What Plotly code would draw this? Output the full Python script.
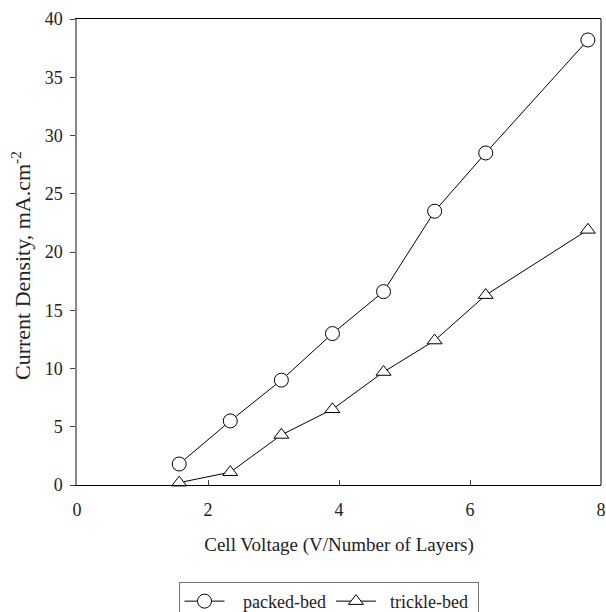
import plotly.graph_objects as go

voltage = [1.56, 2.34, 3.12, 3.90, 4.68, 5.46, 6.24, 7.80]
packed_bed = [1.8, 5.5, 9.0, 13.0, 16.6, 23.5, 28.5, 38.2]
trickle_bed = [0.2, 1.1, 4.3, 6.5, 9.7, 12.4, 16.3, 21.9]

FONT = "Liberation Serif"
NB = "\u00a0"

fig = go.Figure()
fig.add_trace(go.Scatter(
    x=voltage, y=packed_bed, name=NB * 3 + "packed-bed", mode="lines+markers",
    line=dict(color="black", width=1),
    marker=dict(symbol="circle", size=14, color="white", line=dict(color="black", width=1)),
    cliponaxis=False,
))
fig.add_trace(go.Scatter(
    x=voltage, y=trickle_bed, name=NB * 2 + "trickle-bed" + NB, mode="lines+markers",
    line=dict(color="black", width=1),
    marker=dict(symbol="triangle-up", size=13, color="white", line=dict(color="black", width=1)),
    cliponaxis=False,
))

fig.update_layout(
    width=606, height=612,
    margin=dict(l=77, r=5, t=19, b=127, autoexpand=False),
    paper_bgcolor="white", plot_bgcolor="white",
    font=dict(family=FONT, color="#222", size=18),
    showlegend=True,
    legend=dict(orientation="h", x=0.48, xanchor="center", y=-0.208, yanchor="top",
                bordercolor="#777", borderwidth=1, font=dict(family=FONT, size=18, color="#222"),
                itemwidth=40, tracegroupgap=0),
    xaxis=dict(range=[0, 8], tickvals=[0, 2, 4, 6, 8], ticks="inside", ticklen=5,
               tickcolor="#444", showline=True, linecolor="black", linewidth=1, mirror=True,
               showgrid=False, zeroline=False, ticklabelstandoff=8,
               tickfont=dict(family=FONT, size=18, color="#222"),
               title=dict(text="Cell Voltage (V/Number of Layers)", standoff=19,
                          font=dict(family=FONT, size=19, color="#222"))),
    yaxis=dict(range=[0, 40], tickvals=[0, 5, 10, 15, 20, 25, 30, 35, 40], ticks="outside",
               ticklen=5, tickcolor="#444", showline=True, linecolor="#888", linewidth=1.5,
               showgrid=False, zeroline=False, ticklabelstandoff=4,
               tickfont=dict(family=FONT, size=18, color="#222")),
    annotations=[dict(text="Current Density, mA.cm<sup>-2</sup>", textangle=-90,
                      xref="paper", yref="paper", x=-0.107, y=0.472,
                      xanchor="center", yanchor="middle", showarrow=False,
                      font=dict(family=FONT, size=22, color="#222"))],
    shapes=[dict(type="line", xref="paper", yref="paper", x0=1, x1=1, y0=0, y1=1,
                 line=dict(color="black", width=1))],
)

fig.write_html("out.html")
